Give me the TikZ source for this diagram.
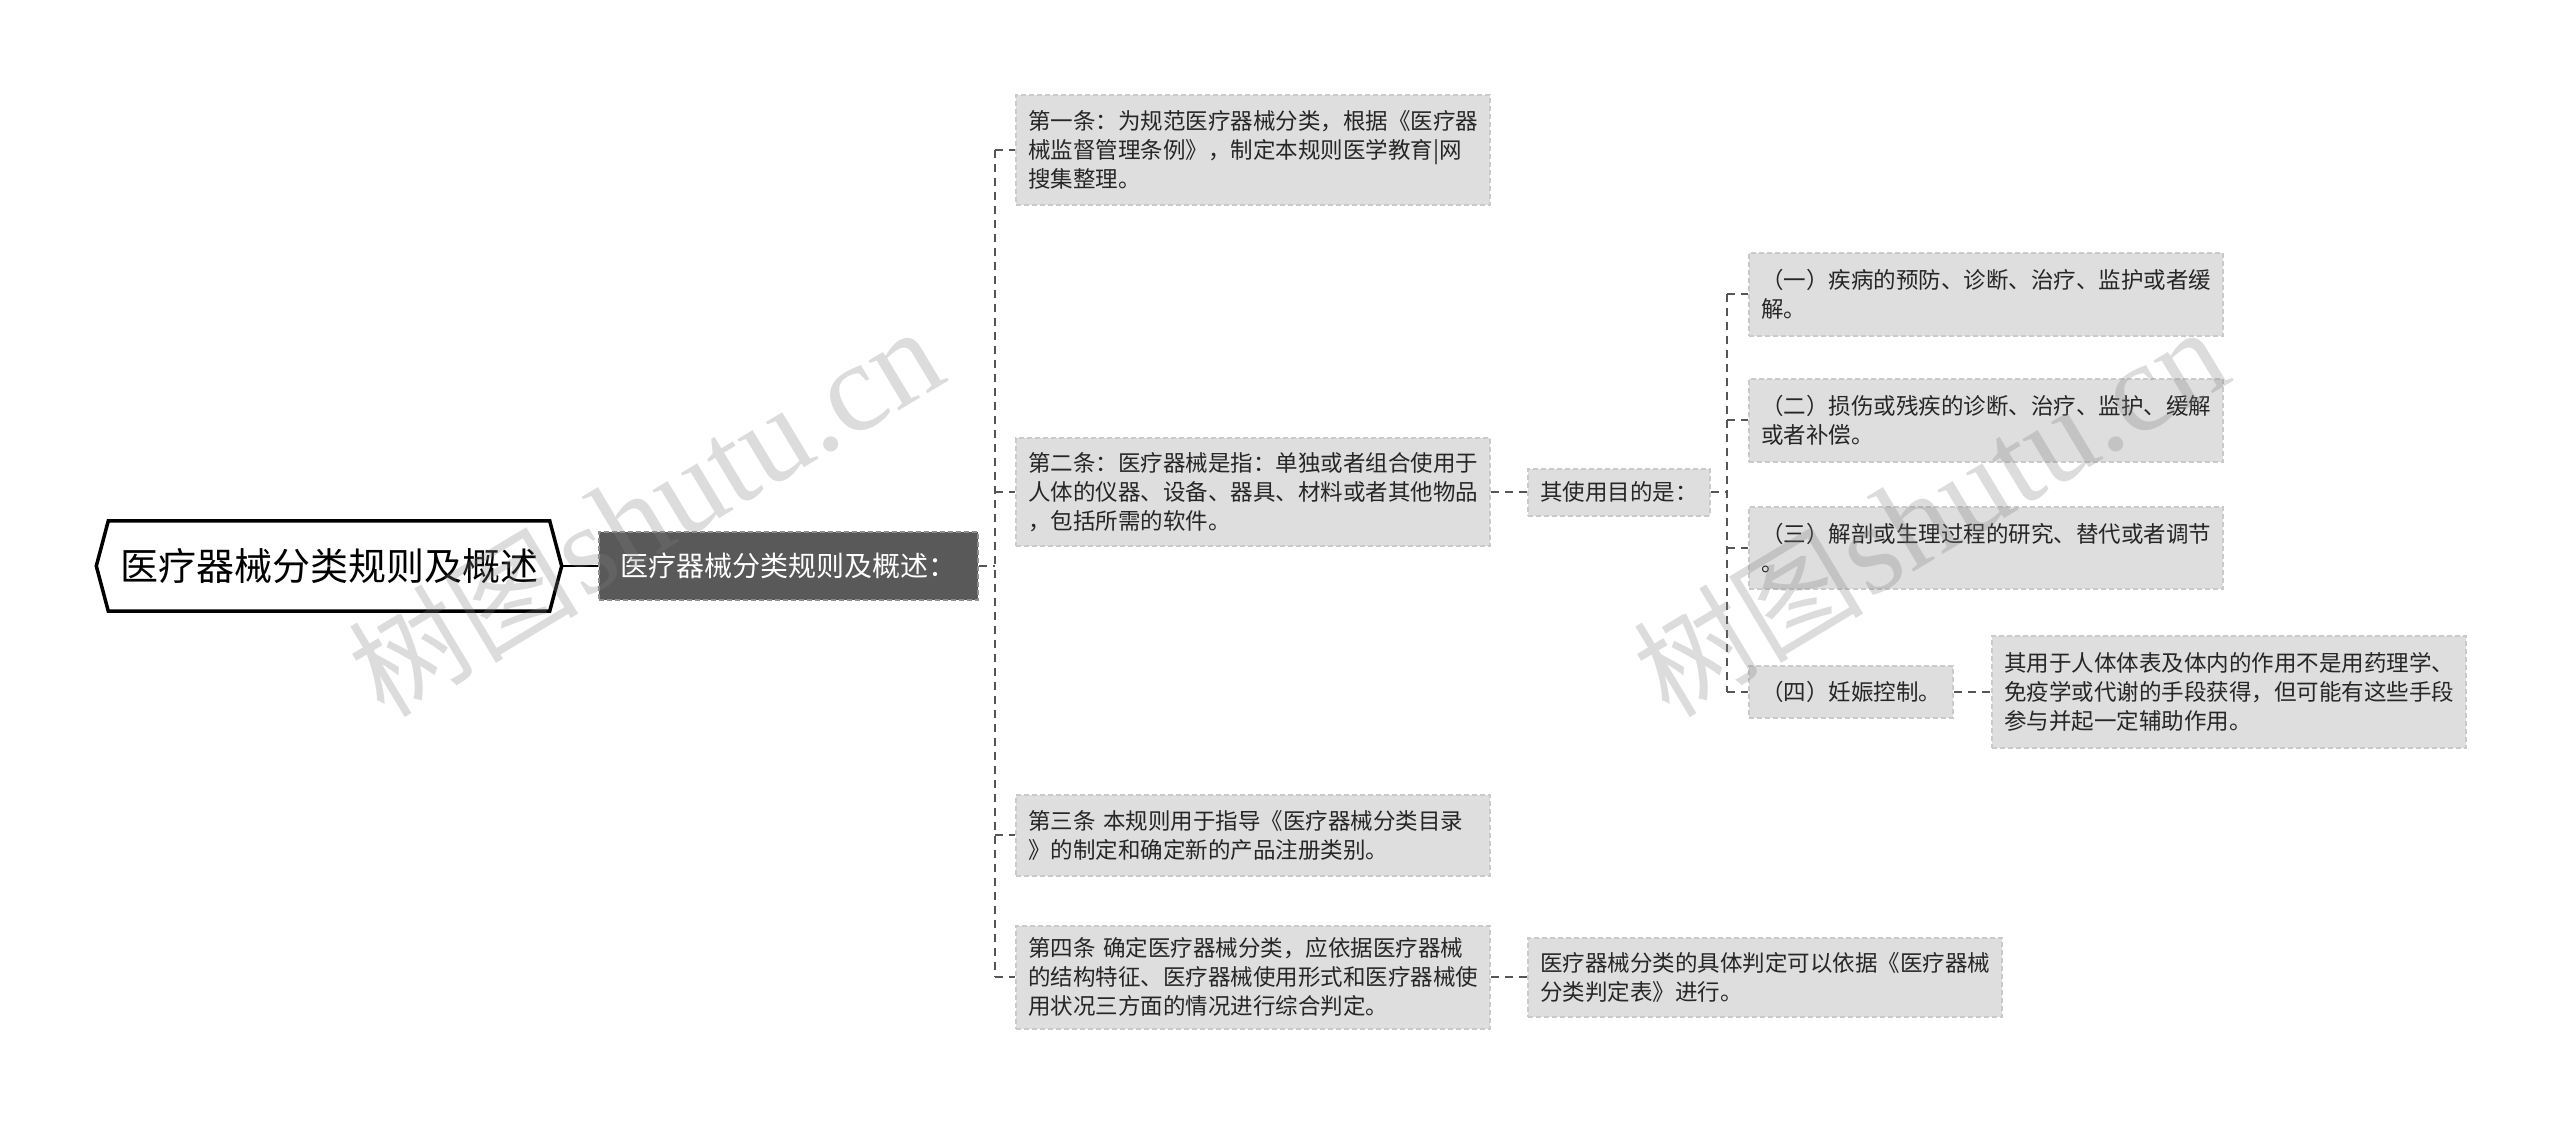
\documentclass[tikz,border=0pt]{standalone}
\usepackage{fontspec}
\newfontfamily\cjk{Noto Sans CJK SC}
\newfontfamily\wmserif{Liberation Serif}
\definecolor{boxfill}{HTML}{DEDEDE}
\definecolor{boxline}{HTML}{CACACA}
\definecolor{darkfill}{HTML}{595959}
\definecolor{darkline}{HTML}{8E8E8E}
\definecolor{connc}{HTML}{555555}
\definecolor{txt}{HTML}{262626}
\begin{document}
\begin{tikzpicture}[x=1pt,y=-1pt,
  box/.style={draw=boxline, fill=boxfill, line width=2pt, dash pattern=on 5pt off 3pt,
    anchor=west, inner xsep=12pt, inner ysep=0pt, align=left, text=txt,
    font=\cjk\fontsize{22.5}{29}\selectfont},
  darkbox/.style={draw=darkline, fill=darkfill, line width=2pt, dash pattern=on 5pt off 3pt,
    anchor=west, inner xsep=0pt, inner ysep=0pt, text=white,
    font=\cjk\fontsize{28}{34}\selectfont},
  rootnode/.style={inner sep=0pt, text=black, font=\cjk\fontsize{38}{44}\selectfont},
  rootline/.style={draw=black, line width=3.5pt, line join=miter},
  solidconn/.style={draw=black, line width=2.2pt},
  conn/.style={draw=connc, line width=1.8pt, dash pattern=on 8pt off 6pt},
  wm/.style={text=gray, opacity=0.28, inner sep=0pt}
]
\useasboundingbox (0,0) rectangle (2560,1128);

% root
\node[rootnode, minimum width=441pt, minimum height=90pt] (root) at (329,566) {医疗器械分类规则及概述};
\draw[rootline] (root.north west) -- (root.north east) -- ([xshift=12pt]root.east)
  -- (root.south east) -- (root.south west) -- ([xshift=-12pt]root.west) -- cycle;

\node[darkbox, minimum width=379pt, minimum height=68pt] (dark) at (598,566) {医疗器械分类规则及概述：};

% level 2
\node[box, text width=450pt, minimum height=110pt] (b1) at (1015,150)
  {第一条：为规范医疗器械分类，根据《医疗器\\械监督管理条例》，制定本规则医学教育|网\\搜集整理。};
\node[box, text width=450pt, minimum height=108pt] (b2) at (1015,492)
  {第二条：医疗器械是指：单独或者组合使用于\\人体的仪器、设备、器具、材料或者其他物品\\，包括所需的软件。};
\node[box, text width=450pt, minimum height=81pt] (b3) at (1015,835)
  {第三条 本规则用于指导《医疗器械分类目录\\》的制定和确定新的产品注册类别。};
\node[box, text width=450pt, minimum height=103pt] (b4) at (1015,977)
  {第四条 确定医疗器械分类，应依据医疗器械\\的结构特征、医疗器械使用形式和医疗器械使\\用状况三方面的情况进行综合判定。};

% level 3
\node[box, minimum height=47pt] (use) at (1527,492) {其使用目的是：};
\node[box, text width=450pt, minimum height=79pt] (b5) at (1527,977)
  {医疗器械分类的具体判定可以依据《医疗器械\\分类判定表》进行。};

% level 4
\node[box, text width=450pt, minimum height=83pt] (c1) at (1748,294)
  {（一）疾病的预防、诊断、治疗、监护或者缓\\解。};
\node[box, text width=450pt, minimum height=83pt] (c2) at (1748,420)
  {（二）损伤或残疾的诊断、治疗、监护、缓解\\或者补偿。};
\node[box, text width=450pt, minimum height=82pt] (c3) at (1748,548)
  {（三）解剖或生理过程的研究、替代或者调节\\。};
\node[box, minimum height=52pt] (c4) at (1748,692) {（四）妊娠控制。};
\node[box, text width=450pt, minimum height=112pt] (d) at (1991,692)
  {其用于人体体表及体内的作用不是用药理学、\\免疫学或代谢的手段获得，但可能有这些手段\\参与并起一定辅助作用。};

% connectors
\coordinate (j1) at (995,566);
\coordinate (j2) at (1727,492);
\draw[solidconn] ([xshift=12pt]root.east) -- (dark.west);
\draw[conn] (dark.east) -- (j1);
\draw[conn] (j1 |- b1.west) -- (j1 |- b4.west);
\foreach \n in {b1,b2,b3,b4} \draw[conn] (j1 |- \n.west) -- (\n.west);
\draw[conn] (b2.east) -- (use.west);
\draw[conn] (use.east) -- (j2);
\draw[conn] (j2 |- c1.west) -- (j2 |- c4.west);
\foreach \n in {c1,c2,c3,c4} \draw[conn] (j2 |- \n.west) -- (\n.west);
\draw[conn] (c4.east) -- (d.west);
\draw[conn] (b4.east) -- (b5.west);

% watermarks
\node[wm, rotate=31] (wm1) at (645,512) {{\cjk\fontsize{115}{115}\selectfont 树图} {\wmserif\fontsize{127}{127}\selectfont shutu.cn}};
\node[wm, rotate=31] (wm2) at (1930,512) {{\cjk\fontsize{115}{115}\selectfont 树图} {\wmserif\fontsize{127}{127}\selectfont shutu.cn}};
\end{tikzpicture}
\end{document}
